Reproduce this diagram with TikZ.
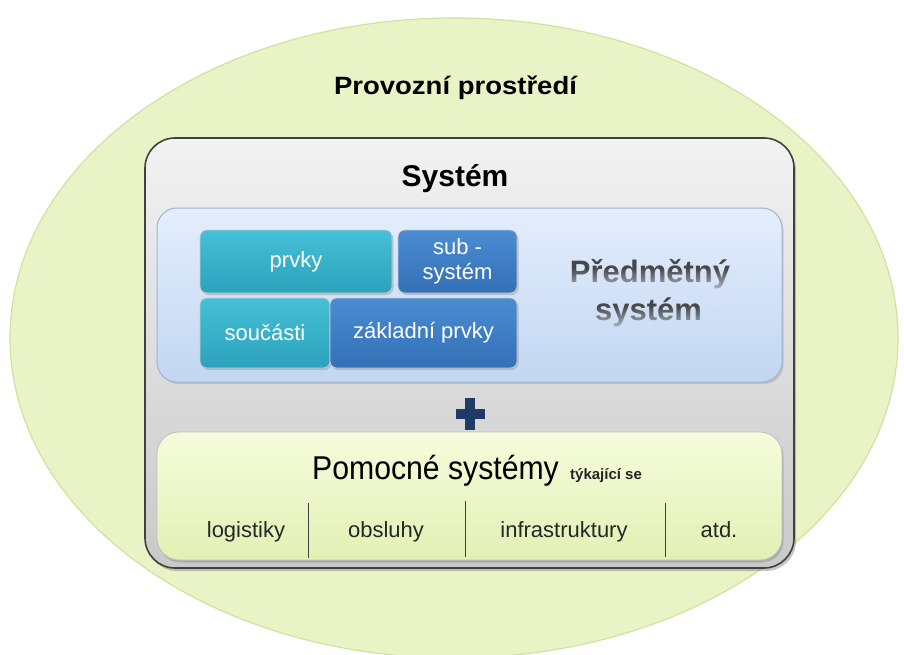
\documentclass[tikz,border=0pt]{standalone}
\usepackage{fontspec}
\setmainfont{Liberation Sans}
\usetikzlibrary{shadows,shapes.geometric,fadings}
\definecolor{ellfill}{HTML}{E8F4C6}
\definecolor{elledge}{HTML}{CFE3A0}
\definecolor{graytop}{HTML}{F2F2F2}
\definecolor{graybot}{HTML}{C9C9C9}
\definecolor{bluetop}{HTML}{E4EEFC}
\definecolor{bluebot}{HTML}{C2D6F2}
\definecolor{blueedge}{HTML}{9DB5D6}
\definecolor{greentop}{HTML}{F6FCDC}
\definecolor{greenbot}{HTML}{E2F0B4}
\definecolor{tealtop}{HTML}{45C0D6}
\definecolor{tealbot}{HTML}{2CA2BC}
\definecolor{dbtop}{HTML}{4A8CD2}
\definecolor{dbbot}{HTML}{3470B6}
\definecolor{navy}{HTML}{1F3A64}
\tikzfading[name=textfade, top color=transparent!100, bottom color=transparent!25]
\tikzset{
  tile/.style={rounded corners=7pt, draw=white!60!gray, line width=0.6pt,
    text=white, font=\fontsize{22}{25}\selectfont, align=center, inner sep=0pt,
    drop shadow={opacity=0.35, shadow xshift=1.5pt, shadow yshift=-2pt}},
  tealtile/.style={tile, top color=tealtop, bottom color=tealbot},
  bluetile/.style={tile, top color=dbtop, bottom color=dbbot},
  lbl/.style={font=\fontsize{22}{24}\selectfont, text=black!85, anchor=base},
  divider/.style={draw=black!75, line width=0.8pt},
  bigtxt/.style={font=\bfseries\fontsize{31}{38}\selectfont, text=black!72, anchor=base}
}
\begin{document}
\begin{tikzpicture}[x=1pt,y=-1pt]
\useasboundingbox (0,0) rectangle (904,655);
\fill[white] (0,0) rectangle (904,655);
% environment ellipse
\node[ellipse, draw=elledge, line width=1.2pt, fill=ellfill,
  minimum width=888pt, minimum height=640pt, inner sep=0pt] (env) at (454,338) {};
\node[font=\bfseries\fontsize{25}{27}\selectfont, anchor=base] (envlbl) at (455.5,95) {\scalebox{1.1}[1]{Provozní prostředí}};
% system box
\node[draw=black!75, line width=1.6pt, rounded corners=30pt, top color=graytop, bottom color=graybot,
  minimum width=649pt, minimum height=430pt, inner sep=0pt,
  drop shadow={opacity=0.45, shadow xshift=2pt, shadow yshift=-3pt}] (sys) at (469.5,353) {};
\node[font=\bfseries\fontsize{30}{32}\selectfont, anchor=base] (syslbl) at (455,186) {Systém};
% subject system box
\node[draw=blueedge, line width=1pt, rounded corners=20pt, top color=bluetop, bottom color=bluebot,
  minimum width=625pt, minimum height=174pt, inner sep=0pt,
  drop shadow={opacity=0.3, shadow xshift=1.5pt, shadow yshift=-2pt}] (subj) at (469.5,295) {};
% tiles
\node[tealtile, minimum width=192pt, minimum height=63pt] (prvky) at (296,261.5) {prvky};
\node[bluetile, minimum width=119pt, minimum height=63pt] (subsys) at (457.5,261.5) {sub -\\systém};
\node[tealtile, minimum width=130pt, minimum height=70pt] (soucasti) at (265,333) {součásti};
\node[bluetile, minimum width=187pt, minimum height=70pt] (zakl) at (423.5,333) {základní prvky};
% subject system label, fading towards the bottom of each line
\node[bigtxt] (predm) at (650,282) {Předmětný};
\node[bigtxt] (predm2) at (648.5,320) {systém};
\fill[bluetop!58!bluebot, path fading=textfade] (562,268) rectangle (740,290);
\fill[bluetop!36!bluebot, path fading=textfade] (582,306) rectangle (718,328);
% plus sign
\coordinate (plus) at (470,414);
\fill[navy] ([xshift=-5pt,yshift=-16pt]plus) rectangle ([xshift=5pt,yshift=16pt]plus);
\fill[navy] ([xshift=-14.5pt,yshift=-5pt]plus) rectangle ([xshift=14.5pt,yshift=5pt]plus);
% auxiliary systems box
\node[draw=black!25, line width=0.8pt, rounded corners=22pt, top color=greentop, bottom color=greenbot,
  minimum width=625pt, minimum height=128pt, inner sep=0pt,
  drop shadow={opacity=0.4, shadow xshift=1.5pt, shadow yshift=-2.5pt}] (aux) at (469.5,496) {};
\node[font=\fontsize{33}{35}\selectfont, anchor=base west, inner sep=0pt] (auxlbl) at (312,479) {\scalebox{0.915}[1]{Pomocné systémy}};
\node[font=\bfseries\fontsize{15}{17}\selectfont, anchor=base west, inner sep=0pt, text=black!85] (tyk) at (570,479) {týkající se};
% dividers
\coordinate (d1t) at (308,503); \coordinate (d1b) at (308,558);
\coordinate (d2t) at (465,501); \coordinate (d2b) at (465,557);
\coordinate (d3t) at (665,503); \coordinate (d3b) at (665,557);
\draw[divider] (d1t) -- (d1b);
\draw[divider] (d2t) -- (d2b);
\draw[divider] (d3t) -- (d3b);
\node[lbl] (logi) at (246,537) {logistiky};
\node[lbl] (obsl) at (386,537) {obsluhy};
\node[lbl] (infra) at (564,537) {infrastruktury};
\node[lbl] (atd) at (719,537) {atd.};
\end{tikzpicture}
\end{document}
